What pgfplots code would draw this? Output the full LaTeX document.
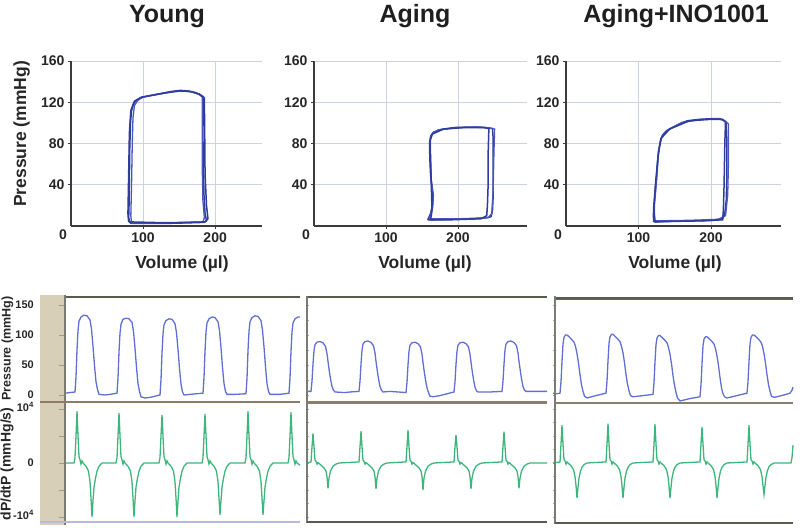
\documentclass[border=0pt]{standalone}
\usepackage{pgfplots}
\pgfplotsset{compat=1.18}
\usepackage{fontspec}
\setmainfont{Liberation Sans}
\definecolor{pvblue}{HTML}{2E3C9C}
\definecolor{pvblue2}{HTML}{4858BC}
\definecolor{prblue}{HTML}{5F70D2}
\definecolor{dpgreen}{HTML}{3DB67C}
\definecolor{gridc}{HTML}{CDD1E4}
\definecolor{axc}{HTML}{3C3C3C}
\definecolor{beige}{HTML}{D8CFB8}
\definecolor{frm}{HTML}{5A5A4E}
\definecolor{sepc}{HTML}{8C7C6A}
\pgfplotsset{
  pv/.style={scale only axis, width=#1, height=165pt, ymin=0, ymax=160,
    axis lines*=left, axis line style={color=axc, line width=1.3pt},
    grid=major, grid style={color=gridc, line width=0.7pt},
    xtick={100,200}, ytick={40,80,120,160},
    tick style={color=axc, line width=0.8pt}, major tick length=3pt, tick align=outside,
    /pgf/number format/assume math mode=true,
    tick label style={font=\fontsize{14}{14}\selectfont\bfseries, color=black!85},
    extra x ticks={0}, extra x tick style={grid=none, major tick length=0pt, xticklabel style={xshift=-8pt}}},
  prs/.style={scale only axis, height=105pt, ymin=-11.7, ymax=163.3,
    axis line style={draw=none}, xtick=\empty, clip=false},
  dps/.style={scale only axis, height=120pt, ymin=-1.093, ymax=1.13,
    axis line style={draw=none}, xtick=\empty, clip=false},
  smalltk/.style={ytick pos=left, tick align=inside, major tick length=2pt,
    tick style={color=gray!70, line width=0.5pt}, yticklabels={}},
  leftlab/.style={ytick pos=left, tick align=outside, major tick length=6pt,
    tick style={color=gray!80, line width=0.8pt}, yticklabels={}},
  pl/.style={color=pvblue, line width=1.5pt, mark=none},
  pl2/.style={color=pvblue2, line width=1.3pt, mark=none},
  pr/.style={color=prblue, line width=1.3pt, mark=none},
  dp/.style={color=dpgreen, line width=1.3pt, mark=none}
}
\begin{document}
\begin{tikzpicture}[x=1pt,y=1pt]
\useasboundingbox (0,0) rectangle (800,531);
% titles
\node[font=\fontsize{25}{25}\selectfont\bfseries, anchor=base, color=black!88] at (167,508) {Young};
\node[font=\fontsize{25}{25}\selectfont\bfseries, anchor=base, color=black!88] at (415,508) {Aging};
\node[font=\fontsize{25}{25}\selectfont\bfseries, anchor=base, color=black!88] at (676,508) {Aging+INO1001};
% ---------- PV loops ----------
\begin{axis}[pv=191pt, at={(71pt,305pt)}, anchor=south west, xmin=0, xmax=265]
\addplot[pl] coordinates {(82,3) (80,8) (80.5,20) (81,45) (81.5,75) (82.5,100) (84,112) (87,119) (91,122) (97,124.5) (110,126.5) (125,128.5) (140,130.5) (152,131.5) (162,131) (172,129.5) (180,127) (184,125) (183.5,115) (183,90) (183.5,60) (184.5,30) (186,12) (188,5) (184,3.5) (160,3) (130,2.5) (100,2.5) (85,2.5) (82,3)};
\addplot[pl2] coordinates {(84,3) (83,10) (84,40) (85,80) (86,105) (88,117) (93,122) (100,125) (120,127.5) (140,130) (155,131) (168,130) (178,127.5) (182,125) (182,100) (182,60) (183,25) (185,8) (183,4) (150,3.5) (110,3) (84,3)};
\addplot[pl] coordinates {(80,4) (79,12) (80,50) (81,90) (83,112) (88,121) (98,125) (130,129) (150,131) (165,130.5) (178,128) (185,124) (185.5,90) (186,50) (188,20) (190,7) (186,4) (140,3) (80,4)};
\end{axis}
\begin{axis}[pv=213pt, at={(314pt,305pt)}, anchor=south west, xmin=0, xmax=296]
\addplot[pl] coordinates {(158,6) (162,12) (165,22) (164,35) (162,50) (161,65) (160.5,80) (162,87) (166,91) (175,93.5) (195,95.5) (220,96) (238,95.5) (248,94.5) (249,85) (249,60) (249,30) (248,15) (246,9) (240,8) (220,7) (190,6.5) (165,6) (158,6)};
\addplot[pl2] coordinates {(160,7) (165,18) (166,30) (163,45) (162,70) (162,84) (165,90) (172,93) (200,95.5) (230,96) (245,95) (251,94) (250,70) (249,35) (247,12) (242,8) (200,7) (160,7)};
\addplot[pl] coordinates {(162,6) (164,15) (163,40) (162,60) (161,82) (164,89) (180,94) (210,95.5) (235,95.5) (243,94.5) (242,70) (242,40) (241,20) (240,10) (232,7) (190,6) (162,6)};
\end{axis}
\begin{axis}[pv=215pt, at={(566pt,305pt)}, anchor=south west, xmin=0, xmax=296.5]
\addplot[pl] coordinates {(121,4) (120.5,10) (121,19) (124,40) (126,60) (127.5,72) (130,82) (133,88) (138,92) (145,95) (155,98.5) (167,102) (185,103.5) (200,104) (212,104) (217,103) (221,100) (222,80) (222,50) (221,25) (219,12) (216,7) (200,5.5) (170,5) (140,4.5) (121,4)};
\addplot[pl2] coordinates {(122,5) (122,20) (125,45) (128,75) (132,86) (140,93) (160,100.5) (185,103) (210,104) (219,102) (224,99) (224,60) (223,30) (220,10) (210,6.5) (170,5.5) (122,5)};
\addplot[pl] coordinates {(123,4) (121,15) (123,38) (127,68) (131,85) (143,94) (170,102) (200,103.5) (215,103.5) (220,101) (219,80) (218,40) (217,15) (216,6) (190,5) (150,4.5) (123,4)};
\end{axis}
\node[font=\fontsize{17.5}{17.5}\selectfont\bfseries, anchor=base, color=black!85] at (182,263) {Volume (µl)};
\node[font=\fontsize{17.5}{17.5}\selectfont\bfseries, anchor=base, color=black!85] at (425,263) {Volume (µl)};
\node[font=\fontsize{17.5}{17.5}\selectfont\bfseries, anchor=base, color=black!85] at (675,263) {Volume (µl)};
\node[font=\fontsize{17.5}{17.5}\selectfont\bfseries, anchor=base, rotate=90, color=black!85] at (26,397) {Pressure (mmHg)};
% ---------- traces ----------
\fill[beige] (40,6) rectangle (65,236);
% panel 1
\begin{axis}[prs, leftlab, at={(65pt,129pt)}, anchor=south west, width=235pt, xmin=65, xmax=300,
  ytick={0,50,100,150}]
\addplot[pr] coordinates {(65,3) (70,4) (75,5) (76,30) (77,75) (78,107) (79,123) (81,130) (84,133) (87,132) (90,125) (91.5,110) (93,81) (94.5,49) (96,22) (97.5,9) (99,1) (105,0) (110,1) (117,3)
(118,28) (119,72) (120,103) (121,118) (123,126) (126,128) (129,127) (132,121) (133.5,106) (135,78) (136.5,46) (138,19) (139.5,6) (141,-3) (145,-5) (150,-4) (155,-2) (160,0)
(161,25) (162,70) (163,102) (164,117) (166,124) (169,127) (172,126) (175,119) (176.5,104) (178,76) (179.5,44) (181,18) (182.5,5) (184,0) (190,1) (196,2) (203,3)
(204,29) (205,73) (206,105) (207,120) (209,127) (212,130) (215,129) (218,122) (219.5,107) (221,79) (222.5,46) (224,19) (225.5,6) (227,1) (235,1) (246,2)
(247,28) (248,74) (249,106) (250,122) (252,129) (255,132) (258,131) (261,124) (262.5,108) (264,80) (265.5,47) (267,19) (268.5,6) (270,1) (280,1) (289,3)
(290,28) (291,73) (292,105) (293,120) (295,127) (298,130) (300,130)};
\end{axis}
\begin{axis}[dps, leftlab, at={(65pt,9pt)}, anchor=south west, width=235pt, xmin=65, xmax=300,
  ytick={-1,-0.5,0,0.5,1}]
\addplot[dp] coordinates {(65,0) (74,0) (75,0.1) (76,0.5) (77,0.96) (78,0.5) (79,0.12) (80,0.06) (81,-0.02) (82,0.04) (83,0) (86,-0.06) (88.5,-0.15) (90,-0.35) (91,-0.65) (92,-1.0) (93,-0.7) (94,-0.45) (95.5,-0.28) (97,-0.15) (99,-0.06) (102,0)
(116,0) (117,0.1) (118,0.5) (119,0.93) (120,0.5) (121,0.12) (122,0.06) (123,-0.02) (124,0.04) (125,0) (128,-0.06) (130.5,-0.15) (132,-0.35) (133,-0.65) (134,-1.0) (135,-0.7) (136,-0.45) (137.5,-0.28) (139,-0.15) (141,-0.06) (144,0)
(159,0) (160,0.1) (161,0.5) (162,0.89) (163,0.5) (164,0.12) (165,0.06) (166,-0.02) (167,0.04) (168,0) (171,-0.06) (173.5,-0.15) (175,-0.35) (176,-0.65) (177,-1.0) (178,-0.7) (179,-0.45) (180.5,-0.28) (182,-0.15) (184,-0.06) (187,0)
(202,0) (203,0.1) (204,0.5) (205,0.91) (206,0.5) (207,0.12) (208,0.06) (209,-0.02) (210,0.04) (211,0) (214,-0.06) (216.5,-0.15) (218,-0.35) (219,-0.65) (220,-0.96) (221,-0.7) (222,-0.45) (223.5,-0.28) (225,-0.15) (227,-0.06) (230,0)
(245,0) (246,0.1) (247,0.5) (248,0.96) (249,0.5) (250,0.12) (251,0.06) (252,-0.02) (253,0.04) (254,0) (257,-0.06) (259.5,-0.15) (261,-0.35) (262,-0.65) (263,-0.96) (264,-0.7) (265,-0.45) (266.5,-0.28) (268,-0.15) (270,-0.06) (273,0)
(288,0) (289,0.1) (290,0.5) (291,0.94) (292,0.5) (293,0.12) (294,0.06) (295,-0.02) (296,0.04) (297,0) (300,-0.04)};
\end{axis}
% panel 2
\begin{axis}[prs, smalltk, at={(307pt,129pt)}, anchor=south west, width=240pt, xmin=307, xmax=547, ytick={0,25,...,150}]
\addplot[pr] coordinates {(307,6) (311,6) (312,23) (313,52) (314,74) (315,84) (317,88) (320,89) (323,87) (325.5,81) (327,69) (328,56) (329,43) (330.5,27) (332,14) (333.5,8) (335,5) (345,4) (350,5) (359,6)
(360,23) (361,52) (362,75) (363,85) (365,89) (368,90) (371,87.5) (373.5,82) (375,70) (376,56) (377,44) (378.5,27) (380,14) (381.5,8) (383,5) (390,6) (398,5) (406,4)
(407,21) (408,50) (409,73) (410,83) (412,87) (415,88) (418,85.5) (420.5,80) (422,68) (423,54) (424,42) (425.5,25) (427,12) (428.5,4) (430,-2) (433,-3) (440,-1) (447,2) (454,5)
(455,22) (456,51) (457,73) (458,83) (460,87) (463,88) (466,85.5) (468.5,80) (470,68) (471,55) (472,42) (473.5,26) (475,13) (476.5,7) (478,5) (490,5) (502,6)
(503,23) (504,52) (505,75) (506,85) (508,89) (511,90) (514,87.5) (516.5,82) (518,70) (519,56) (520,44) (521.5,27) (523,14) (524.5,8) (526,6) (535,6) (547,6)};
\end{axis}
\begin{axis}[dps, smalltk, at={(307pt,9pt)}, anchor=south west, width=240pt, xmin=307, xmax=547, ytick={-1,-0.75,...,1}]
\addplot[dp] coordinates {(307,0) (311,0.02) (312,0.3) (313,0.55) (314,0.3) (315,0.05) (316,0.03) (317,-0.02) (318,0.01) (321,-0.04) (324,-0.09) (326,-0.15) (327,-0.25) (328,-0.47) (329,-0.28) (330.5,-0.15) (333,-0.06) (336,-0.02) (339,0)
(359,0.02) (360,0.3) (361,0.59) (362,0.3) (363,0.05) (364,0.03) (365,-0.02) (366,0.01) (369,-0.04) (372,-0.09) (374,-0.15) (375,-0.25) (376,-0.48) (377,-0.28) (378.5,-0.15) (381,-0.06) (384,-0.02) (387,0)
(406,0.02) (407,0.3) (408,0.61) (409,0.3) (410,0.05) (411,0.03) (412,-0.02) (413,0.01) (416,-0.04) (419,-0.09) (421,-0.15) (422,-0.25) (423,-0.5) (424,-0.28) (425.5,-0.15) (428,-0.06) (431,-0.02) (434,0)
(454,0.02) (455,0.3) (456,0.52) (457,0.3) (458,0.05) (459,0.03) (460,-0.02) (461,0.01) (464,-0.04) (467,-0.09) (469,-0.15) (470,-0.25) (471,-0.48) (472,-0.28) (473.5,-0.15) (476,-0.06) (479,-0.02) (482,0)
(502,0.02) (503,0.3) (504,0.58) (505,0.3) (506,0.05) (507,0.03) (508,-0.02) (509,0.01) (512,-0.04) (515,-0.09) (517,-0.15) (518,-0.25) (519,-0.47) (520,-0.28) (521.5,-0.15) (524,-0.06) (527,-0.02) (530,0) (547,0)};
\end{axis}
% panel 3
\begin{axis}[prs, smalltk, at={(553pt,129pt)}, anchor=south west, width=240pt, xmin=553, xmax=793, ytick={0,25,...,150}]
\addplot[pr] coordinates {(553,3) (557,2) (560,3) (561,22) (562,56) (563,85) (564,96) (565.5,100) (567,100) (569,97) (572,92) (574,88) (575.5,81) (577,69) (578.5,53) (580,34) (581.5,17) (583,6) (584.5,-2) (587,-5) (596,-1) (606,3)
(607,23) (608,57) (609,86) (610,97) (611.5,101) (613,101) (615,98) (618,93) (620,89) (621.5,81) (623,70) (624.5,54) (626,34) (627.5,18) (629,7) (630.5,-1) (633,-3) (643,-1) (653,1)
(654,21) (655,55) (656,84) (657,95) (658.5,99) (660,99) (662,96) (665,91) (667,87) (668.5,79) (670,68) (671.5,52) (673,32) (674.5,16) (676,4) (677.5,-5) (680,-10) (690,-6) (700,-3)
(701,17) (702,52) (703,82) (704,93) (705.5,97) (707,97) (709,94) (712,89) (714,85) (715.5,77) (717,65) (718.5,49) (720,29) (721.5,12) (723,2) (724.5,-3) (727,-5) (737,-1) (747,3)
(748,22) (749,56) (750,85) (751,96) (752.5,100) (754,100) (756,97) (759,92) (761,88) (762.5,81) (764,69) (765.5,53) (767,34) (768.5,17) (770,6) (771.5,-2) (774,-4) (784,0) (790,3) (792,8) (793,13)};
\end{axis}
\begin{axis}[dps, smalltk, at={(553pt,9pt)}, anchor=south west, width=240pt, xmin=553, xmax=793, ytick={-1,-0.75,...,1}]
\addplot[dp] coordinates {(553,0) (560,0.02) (561,0.35) (562,0.70) (563,0.35) (564,0.06) (565,0.04) (566,-0.02) (567,0.02) (568,0) (571,-0.05) (573.5,-0.12) (575,-0.25) (576,-0.42) (577,-0.65) (578,-0.45) (579,-0.28) (580.5,-0.15) (582,-0.08) (584,-0.03) (587,0)
(606,0.02) (607,0.35) (608,0.73) (609,0.35) (610,0.06) (611,0.04) (612,-0.02) (613,0.02) (614,0) (617,-0.05) (619.5,-0.12) (621,-0.25) (622,-0.42) (623,-0.65) (624,-0.45) (625,-0.28) (626.5,-0.15) (628,-0.08) (630,-0.03) (633,0)
(653,0.02) (654,0.35) (655,0.72) (656,0.35) (657,0.06) (658,0.04) (659,-0.02) (660,0.02) (661,0) (664,-0.05) (666.5,-0.12) (668,-0.25) (669,-0.42) (670,-0.65) (671,-0.45) (672,-0.28) (673.5,-0.15) (675,-0.08) (677,-0.03) (680,0)
(700,0.02) (701,0.35) (702,0.67) (703,0.35) (704,0.06) (705,0.04) (706,-0.02) (707,0.02) (708,0) (711,-0.05) (713.5,-0.12) (715,-0.25) (716,-0.42) (717,-0.65) (718,-0.45) (719,-0.28) (720.5,-0.15) (722,-0.08) (724,-0.03) (727,0)
(747,0.02) (748,0.35) (749,0.70) (750,0.35) (751,0.06) (752,0.04) (753,-0.02) (754,0.02) (755,0) (758,-0.05) (760.5,-0.12) (762,-0.25) (763,-0.42) (764,-0.58) (765,-0.42) (766,-0.26) (767.5,-0.14) (769,-0.07) (771,-0.03) (774,0) (791,0) (792,0.1) (793,0.33)};
\end{axis}
% frames
\draw[frm, line width=2pt] (65,234) -- (300,234);
\draw[frm!80, line width=1.4pt] (65,236) -- (65,6);
\draw[sepc, line width=2.2pt] (40,129) -- (300,129);
\draw[gray!60!blue!40, line width=2.6pt] (40,9) -- (300,9);
\draw[frm, line width=2pt] (307,234) -- (547,234);
\draw[frm!80, line width=1.4pt] (307,235) -- (307,8);
\draw[sepc, line width=2.2pt] (307,128.5) -- (547,128.5);
\draw[frm, line width=2pt] (307,9) -- (547,9);
\draw[frm, line width=2pt] (555,233.5) -- (793,233.5);
\draw[red!60!brown, line width=0.6pt] (555,231.8) -- (793,231.8);
\draw[frm!80, line width=1.4pt] (555,235) -- (555,7);
\draw[sepc, line width=2.2pt] (555,128) -- (793,128);
\draw[frm, line width=2pt] (555,8) -- (793,8);
% tick labels of the trace panels
\begin{scope}[every node/.style={font=\fontsize{11}{11}\selectfont\bfseries, color=black!85, anchor=east, inner sep=0pt}]
\node at (34,226) {150};
\node at (34,196) {100};
\node at (34,166) {50};
\node at (34,136) {0};
\node at (34,124) {10\textsuperscript{4}};
\node at (34,68) {0};
\node at (34,16) {-10\textsuperscript{4}};
\end{scope}
\node[font=\fontsize{12.5}{12.5}\selectfont\bfseries, anchor=base, rotate=90, color=black!85] at (10.5,182.5) {Pressure (mmHg)};
\node[font=\fontsize{14}{14}\selectfont\bfseries, anchor=base, rotate=90, color=black!85] at (10.5,67) {dP/dtP (mmHg/s)};
\end{tikzpicture}
\end{document}
